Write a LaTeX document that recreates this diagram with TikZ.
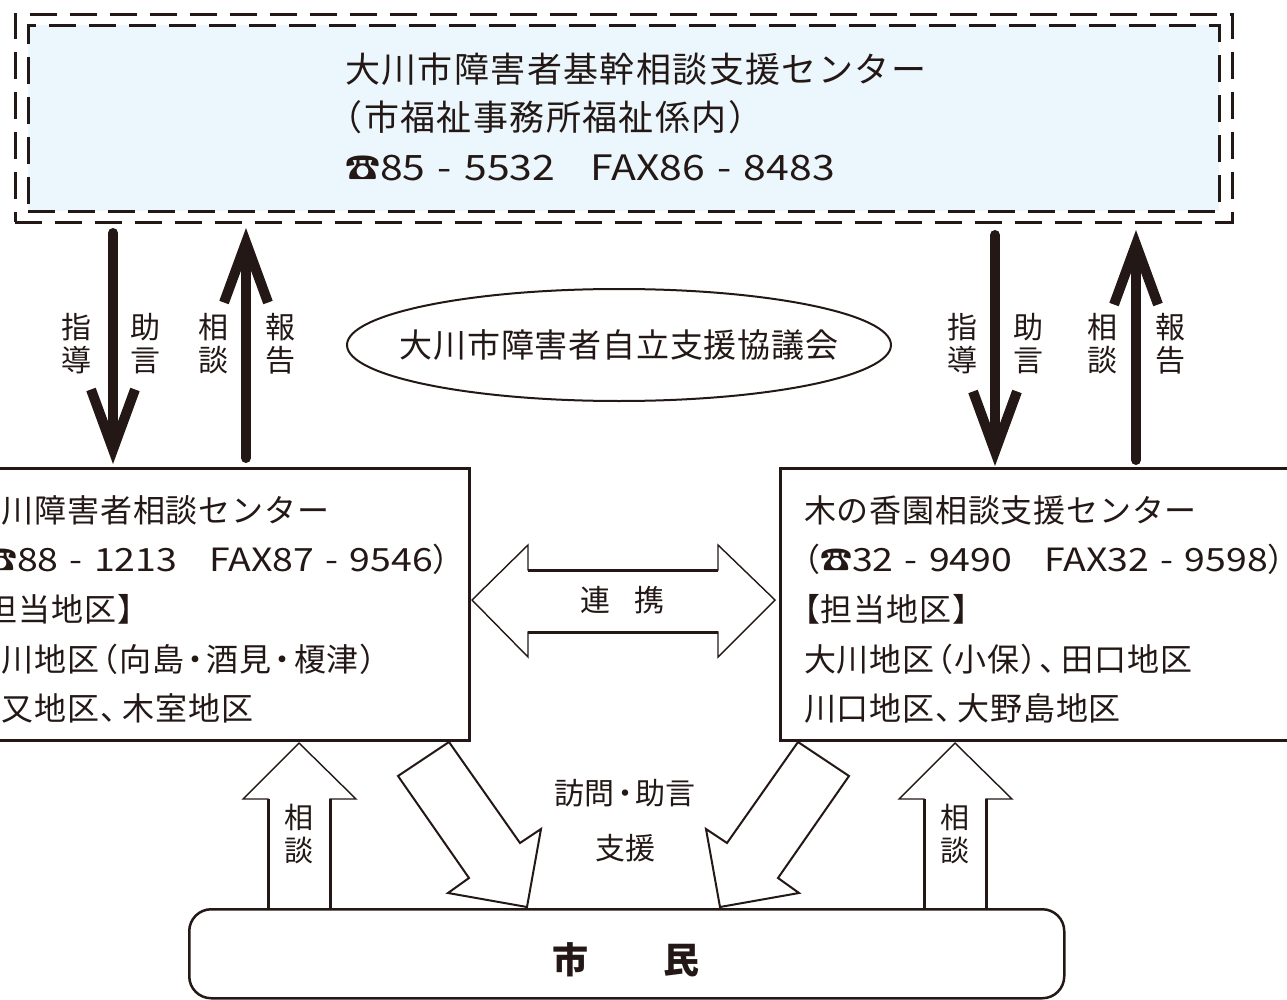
\documentclass[tikz,border=0pt]{standalone}
\usepackage{fontspec}
\setmainfont{Noto Sans CJK JP}[RawFeature=+halt]
\newfontfamily\widefont{Noto Sans CJK JP}[FakeStretch=1.17]
\usetikzlibrary{shapes.geometric,arrows.meta}
\definecolor{ink}{RGB}{35,24,21}
\definecolor{paleblue}{RGB}{235,247,252}
\newcommand{\dsh}{\hspace{0.35em}-\hspace{0.35em}}
\newcommand{\nm}[1]{{\widefont #1}}
\newcommand{\LP}{\hspace{0.1em}（}
\newcommand{\RP}{）\hspace{0.1em}}
\newcommand{\DOT}{\hspace{0.1em}・\hspace{0.1em}}
\newcommand{\TEN}{、\hspace{0.2em}}
\begin{document}
\begin{tikzpicture}[x=1pt,y=-1pt,
  every node/.style={text=ink, inner sep=0pt},
  dashbox/.style={draw=ink, line width=2.8pt, dash pattern=on 27pt off 13pt},
  solidbox/.style={draw=ink, line width=2.5pt},
  boxtext/.style={anchor=base west, font=\fontsize{32}{32}\selectfont},
  boxtextsp/.style={anchor=base west, font=\fontsize{32}{32}\selectfont\addfontfeature{LetterSpace=2.5}},
  toptext/.style={anchor=base west, font=\fontsize{35}{35}\selectfont\addfontfeature{LetterSpace=4}},
  vlabel/.style={align=center, font=\fontsize{30}{33}\selectfont},
  heavyarrow/.style={draw=ink, line width=10pt, line cap=round, -{Straight Barb[length=60pt,width=44pt,sharp]}},
  hollow/.style={draw=ink, line width=1.4pt, line join=miter},
  thickside/.style={draw=ink, line width=3pt},
  diag/.style={draw=ink, line width=2pt, line join=miter},
]
\useasboundingbox (0,0) rectangle (1287,1000);
\clip (0,0) rectangle (1287,1000);
\fill[white] (0,0) rectangle (1287,1000);

% top centre box
\node[dashbox, minimum width=1217pt, minimum height=208pt, anchor=north west] (outer) at (14,13) {};
\node[dashbox, fill=paleblue, minimum width=1191pt, minimum height=186pt, anchor=north west] (inner) at (27,24) {};
\node[toptext] (t1) at (345,83) {大川市障害者基幹相談支援センター};
\node[toptext] (t2) at (345,131) {（市福祉事務所福祉係内\RP};
\node[toptext] (t3) at (345,181) {☎\nm{85\dsh5532\hspace{1em}FAX86\dsh8483}};

% council ellipse
\node[ellipse, draw=ink, line width=2pt, minimum width=544pt, minimum height=112pt] (council) at (619,345) {};
\node[font=\fontsize{33}{33}\selectfont\addfontfeature{LetterSpace=2.5}] (counciltxt) at (council.center) {大川市障害者自立支援協議会};

% left box
\node[solidbox, minimum width=524pt, minimum height=272pt, anchor=north west] (lbox) at (-56,467) {};
\node[boxtextsp] (l1) at (-31,522) {大川障害者相談センター};
\node[boxtext] (l2) at (-31,571) {（☎\nm{88\dsh1213\hspace{1em}FAX87\dsh9546}）};
\node[boxtextsp] (l3) at (-31,621) {【担当地区】};
\node[boxtextsp] (l4) at (-31,671) {大川地区\LP 向島\DOT 酒見\DOT 榎津\RP};
\node[boxtextsp] (l5) at (-31,720) {三又地区\TEN 木室地区};

% right box
\node[solidbox, minimum width=524pt, minimum height=272pt, anchor=north west] (rbox) at (779,467) {};
\node[boxtextsp] (r1) at (804,522) {木の香園相談支援センター};
\node[boxtext] (r2) at (804,571) {（☎\nm{32\dsh9490\hspace{1em}FAX32\dsh9598}）};
\node[boxtextsp] (r3) at (804,621) {【担当地区】};
\node[boxtextsp] (r4) at (804,671) {大川地区\LP 小保\RP\TEN 田口地区};
\node[boxtextsp] (r5) at (804,720) {川口地区\TEN 大野島地区};

% citizens
\node[draw=ink, line width=2.5pt, rounded corners=22pt, minimum width=875pt, minimum height=89pt, anchor=north west] (shimin) at (188,908) {};
\node[font=\fontsize{36}{36}\selectfont\bfseries] (shimintxt) at (626,960) {市\hspace{2.1em}民};

% heavy arrows
\coordinate (ld0) at (113,233); \coordinate (ld1) at (113,464);
\coordinate (lu0) at (246,458); \coordinate (lu1) at (246,228);
\coordinate (rd0) at (995,235); \coordinate (rd1) at (995,466);
\coordinate (ru0) at (1136,460); \coordinate (ru1) at (1136,230);
\draw[heavyarrow] (ld0) -- (ld1);
\draw[heavyarrow] (lu0) -- (lu1);
\draw[heavyarrow] (rd0) -- (rd1);
\draw[heavyarrow] (ru0) -- (ru1);

\node[vlabel] (g1) at (76,344) {指\\導};
\node[vlabel] (j1) at (145,344) {助\\言};
\node[vlabel] (s1) at (213,344) {相\\談};
\node[vlabel] (h1) at (280,344) {報\\告};
\node[vlabel] (g2) at (962,344) {指\\導};
\node[vlabel] (j2) at (1028,344) {助\\言};
\node[vlabel] (s2) at (1102,344) {相\\談};
\node[vlabel] (h2) at (1170,344) {報\\告};

% cooperation double arrow
\draw[hollow] (472,600) -- (528,545) -- (528,570) -- (718,570) -- (718,545) -- (775,600) -- (718,657) -- (718,632) -- (528,632) -- (528,657) -- cycle;
\draw[thickside] (528,570) -- (718,570) (528,632) -- (718,632);
\node[font=\fontsize{30}{30}\selectfont] (renkei) at (622,600) {連\hspace{0.8em}携};

% hollow up arrows
\draw[hollow] (268,908) -- (268,799) -- (243,799) -- (299,743) -- (356,799) -- (330,799) -- (330,908);
\draw[thickside] (268,908) -- (268,799) (330,799) -- (330,908);
\node[vlabel, font=\fontsize{29}{33}\selectfont] (sd1) at (299,834) {相\\談};
\draw[hollow] (924,908) -- (924,799) -- (899,799) -- (955,743) -- (1012,799) -- (986,799) -- (986,908);
\draw[thickside] (924,908) -- (924,799) (986,799) -- (986,908);
\node[vlabel, font=\fontsize{29}{33}\selectfont] (sd2) at (955,834) {相\\談};

% diagonal support arrows
\draw[diag] (398,776) -- (449,742) -- (520,843) -- (541,829) -- (527,907) -- (448,893) -- (469,878) -- cycle;
\draw[diag] (849,776) -- (798,742) -- (727,843) -- (706,829) -- (720,907) -- (799,893) -- (778,878) -- cycle;
\node[font=\fontsize{30}{30}\selectfont] (houmon) at (625,793) {訪問\DOT 助言};
\node[font=\fontsize{30}{30}\selectfont] (shien) at (625,848) {支援};
\end{tikzpicture}
\end{document}
